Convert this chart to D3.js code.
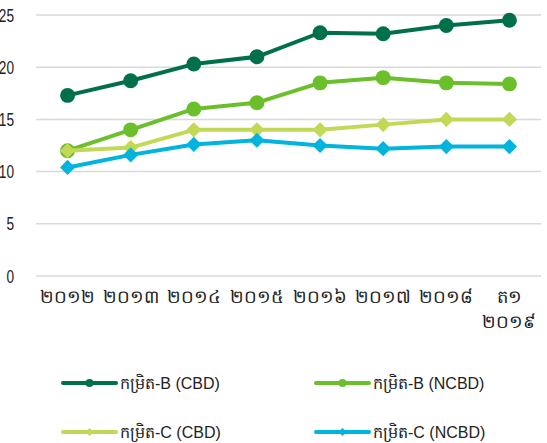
<!DOCTYPE html>
<html><head><meta charset="utf-8">
<script src="https://cdn.jsdelivr.net/npm/d3@7"></script>
<style>
body{margin:0;background:#fff;}
svg{display:block;}
</style></head>
<body>
<svg id="c" width="547" height="443"></svg>
<script>
const categories = [["២០១២"],["២០១៣"],["២០១៤"],["២០១៥"],["២០១៦"],["២០១៧"],["២០១៨"],["ត១","២០១៩"]];
const seriesNames = ["កម្រិត-B (CBD)","កម្រិត-B (NCBD)","កម្រិត-C (CBD)","កម្រិត-C (NCBD)"];
const bCBD  = [17.3, 18.7, 20.3, 21.0, 23.3, 23.2, 24.0, 24.5];
const bNCBD = [12.0, 14.0, 16.0, 16.6, 18.5, 19.0, 18.5, 18.4];
const cCBD  = [12.0, 12.3, 14.0, 14.0, 14.0, 14.5, 15.0, 15.0];
const cNCBD = [10.4, 11.6, 12.6, 13.0, 12.5, 12.2, 12.4, 12.4];
const yTicks = [0,5,10,15,20,25];
const colors = ["#00704a","#6abf2b","#c2d957","#00b4de"];
const markers = ["circle","circle","diamond","diamond"];

const svg = d3.select("#c");
const x = d3.scaleBand().domain(d3.range(categories.length)).range([36,541]);
const y = d3.scaleLinear().domain([0,25]).range([276,15]);
const font = "'Liberation Sans',sans-serif";

svg.append("g").selectAll("line").data(yTicks).join("line")
  .attr("x1",36).attr("x2",541).attr("y1",d=>y(d)).attr("y2",d=>y(d))
  .attr("stroke","#d9d9d9").attr("stroke-width",1.5);
svg.append("g").selectAll("text").data(yTicks).join("text")
  .attr("transform",d=>`translate(14,${y(d)}) scale(0.72,1)`).attr("dy","0.35em").attr("text-anchor","end")
  .attr("font-family",font).attr("font-size",19).attr("fill","#222").text(d=>d);
const xl = svg.append("g").selectAll("text").data(categories).join("text")
  .attr("text-anchor","middle").attr("font-family","sans-serif").attr("font-size",18).attr("fill","#222");
xl.each(function(d,i){
  const t = d3.select(this);
  d.forEach((s,j)=>{
    t.append("tspan").attr("x",x(i)+x.bandwidth()/2).attr("y",303+j*25).text(s);
  });
});
const data = [bCBD,bNCBD,cCBD,cNCBD];
const line = d3.line().x((d,i)=>x(i)+x.bandwidth()/2).y(d=>y(d));
function markerPath(type, big){
  if(type==="circle") return d3.symbol().type(d3.symbolCircle).size(big?175:50)();
  return d3.symbol().type(d3.symbolSquare).size(big?115:34)();
}
[0,1,2,3].forEach(k=>{
  const g = svg.append("g");
  g.append("path").attr("d",line(data[k])).attr("fill","none")
    .attr("stroke",colors[k]).attr("stroke-width",4).attr("stroke-linejoin","round");
  g.selectAll("path.m").data(data[k]).join("path").attr("class","m")
    .attr("transform",(d,i)=>`translate(${x(i)+x.bandwidth()/2},${y(d)})` + (markers[k]==="diamond"?" rotate(45)":""))
    .attr("d",markerPath(markers[k],true))
    .attr("fill",colors[k]);
});
const legPos = [[63,383],[316,383],[63,432],[316,432]];
seriesNames.forEach((n,k)=>{
  const [lx,ly] = legPos[k];
  const g = svg.append("g");
  g.append("line").attr("x1",lx).attr("x2",lx+53).attr("y1",ly).attr("y2",ly)
    .attr("stroke",colors[k]).attr("stroke-width",4).attr("stroke-linecap","round");
  g.append("path").attr("transform",`translate(${lx+26.5},${ly})`+(markers[k]==="diamond"?" rotate(45)":""))
    .attr("d",markerPath(markers[k],false)).attr("fill",colors[k]);
  g.append("text").attr("x",lx+57).attr("y",ly).attr("dy","0.35em")
    .attr("font-family","sans-serif").attr("font-size",16).attr("fill","#222").text(n);
});
</script>
</body></html>
